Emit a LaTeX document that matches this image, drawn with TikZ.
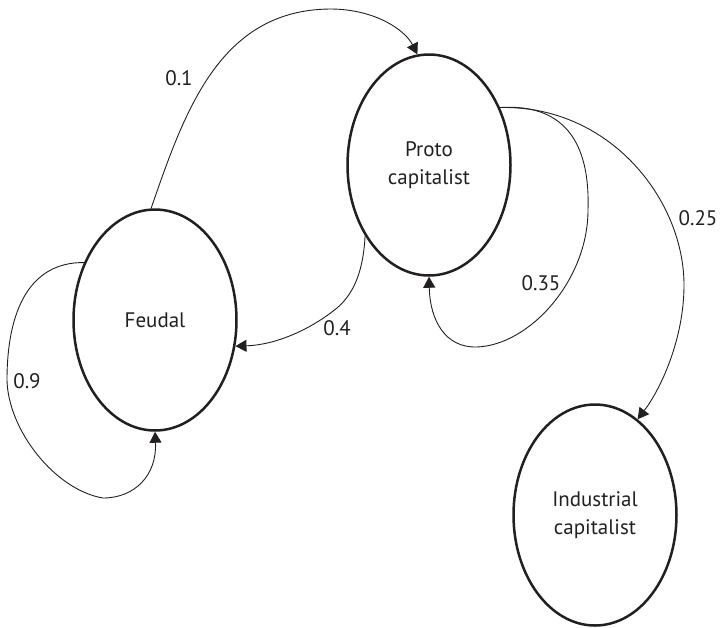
\documentclass[tikz,border=0pt]{standalone}
\usepackage{fontspec}
\setmainfont{PT Sans}
\usetikzlibrary{shapes.geometric,arrows.meta}
\definecolor{ink}{HTML}{231F20}
\tikzset{
  state/.style={ellipse, draw=ink, line width=2.5pt, minimum width=163pt, minimum height=221pt, inner sep=0pt, align=center, text=ink, font=\fontsize{21}{28}\selectfont},
  link/.style={draw=ink, line width=0.9pt, -{Triangle[length=11pt,width=12pt]}},
  lab/.style={text=ink, font=\fontsize{21}{28}\selectfont, inner sep=0pt}
}
\begin{document}
\begin{tikzpicture}[x=1pt,y=-1pt]
\useasboundingbox (0,0) rectangle (723,627);
\node[state] (feudal) at (155,320) {Feudal};
\node[state] (proto) at (429,165) {Proto\\capitalist};
\node[state] (ind) at (595,515) {Industrial\\capitalist};

% 0.1
\draw[link] (feudal.92) .. controls (185,110) and (220,10) .. (330,9)
  .. controls (375,9) and (405,30) .. (proto.96);
% 0.4
\draw[link] (proto.-132) .. controls (363,275) and (352,295) .. (337,308)
  .. controls (310,330) and (275,345) .. (feudal.-18);
% 0.35 self loop
\draw[link] (proto.39) .. controls (570,103) and (590,150) .. (588,210)
  .. controls (588,280) and (530,345) .. (477,347)
  .. controls (445,348) and (430,320) .. (proto.south);
% 0.25
\draw[link] (proto.39) .. controls (610,105) and (684,200) .. (684,285)
  .. controls (684,340) and (660,390) .. (ind.66);
% 0.9 self loop
\draw[link] (feudal.141) .. controls (30,262) and (7,310) .. (7,380)
  .. controls (8,430) and (55,490) .. (103,498)
  .. controls (135,498) and (157,475) .. (feudal.south);

\node[lab] (l1) at (179,78) {0.1};
\node[lab] (l9) at (27,381) {0.9};
\node[lab] (l4) at (337,328) {0.4};
\node[lab] (l35) at (541,283) {0.35};
\node[lab] (l25) at (698,218) {0.25};
\end{tikzpicture}
\end{document}
